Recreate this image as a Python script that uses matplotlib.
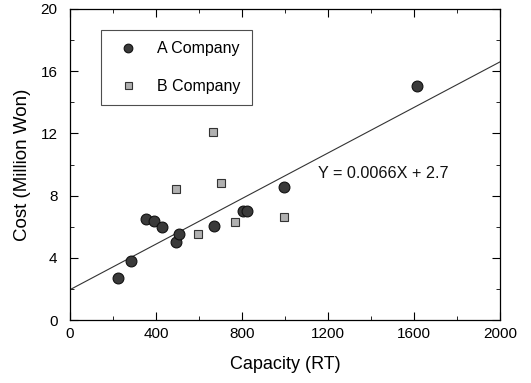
import matplotlib
matplotlib.use("Agg")
import matplotlib.pyplot as plt
from matplotlib.ticker import MultipleLocator

plt.rcParams['font.family'] = ['Liberation Sans', 'DejaVu Sans']

a_x = [222, 284, 353, 392, 429, 495, 509, 670, 803, 825, 995, 1612]
a_y = [2.72, 3.81, 6.52, 6.39, 6.0, 5.0, 5.53, 6.02, 7.03, 7.03, 8.53, 15.05]
b_x = [495, 664, 704, 597, 766, 997]
b_y = [8.42, 12.11, 8.81, 5.55, 6.28, 6.62]
line_x = [0, 2000]
line_y = [1.95, 16.6]
eq_text = "Y = 0.0066X + 2.7"

fig = plt.figure(figsize=(5.31, 3.83), dpi=100)
ax = fig.add_axes([70/531, 1 - 320/383, 430/531, 311/383])

ax.plot(line_x, line_y, color='#333333', lw=0.8)
ax.plot(a_x, a_y, 'o', ms=7.8, mfc='#3a3a3a', mec='#111111', mew=0.8, label='A Company')
ax.plot(b_x, b_y, 's', ms=6.3, mfc='#b0b0b0', mec='#333333', mew=0.8, label='B Company')

ax.text(1153, 9.45, eq_text, fontsize=11.7, va='center', ha='left', color='#111111')

ax.set_xlim(0, 2000)
ax.set_ylim(0, 20)
ax.xaxis.set_major_locator(MultipleLocator(400))
ax.xaxis.set_minor_locator(MultipleLocator(200))
ax.yaxis.set_major_locator(MultipleLocator(4))
ax.yaxis.set_minor_locator(MultipleLocator(2))
ax.tick_params(which='both', direction='in', top=True, right=True, labelsize=11)
ax.tick_params(which='major', length=6)
ax.tick_params(which='minor', length=3)
ax.tick_params(axis='y', which='major', pad=9)
ax.tick_params(axis='x', which='major', pad=5)
for s in ax.spines.values():
    s.set_linewidth(0.9)

ax.set_xlabel('Capacity (RT)', fontsize=13, labelpad=11)
ax.set_ylabel('Cost (Million Won)', fontsize=13.5, labelpad=7)

leg = ax.legend(loc='upper left', bbox_to_anchor=(0.071, 0.932), fancybox=False,
                edgecolor='#222222', fontsize=11.5, handletextpad=0.85, markerscale=0.8,
                borderpad=0.7, labelspacing=1.4, borderaxespad=0, handlelength=2.0)
leg.get_frame().set_linewidth(0.8)

fig.savefig('out.png', dpi=100)
